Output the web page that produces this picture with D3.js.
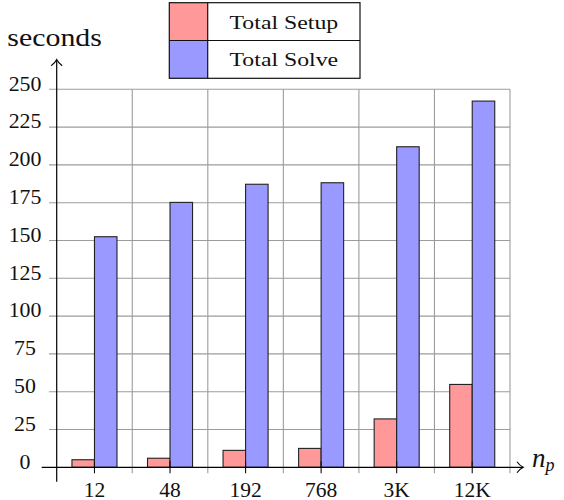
<!DOCTYPE html>
<html>
<head>
<meta charset="utf-8">
<script src="https://cdn.jsdelivr.net/npm/d3@7"></script>
<style>
  html, body { margin: 0; padding: 0; background: #fff; }
  svg { display: block; }
</style>
</head>
<body>
<svg id="chart" width="564" height="500"></svg>
<script>
// Processor counts on the horizontal axis
const categories = ["12", "48", "192", "768", "3K", "12K"];
// Time in seconds for each phase
const setupSeconds = [5, 6, 11.2, 12.5, 32, 54.8];
const solveSeconds = [152.5, 175.2, 187.2, 188.2, 212, 242.2];
// Vertical axis ticks
const yTicks = [0, 25, 50, 75, 100, 125, 150, 175, 200, 225, 250];
const seriesNames = ["Total Setup", "Total Solve"];
const seriesColors = ["#ff9999", "#9999ff"];

const FONT = "Liberation Serif";
const svg = d3.select("#chart");

const x = d3.scaleBand().domain(categories).range([56.7, 510]).paddingInner(0).paddingOuter(0);
const y = d3.scaleLinear().domain([0, 250]).range([467.3, 89.3]);
const barW = x.bandwidth() * 0.298;

// place text at (px, py) and stretch it horizontally by k (wider serif look)
const place = (px, py, k) => `translate(${px},${py}) scale(${k},1)`;

const gridColor = "#9c9c9c";

// horizontal grid (also forms the left tick marks)
svg.append("g")
  .selectAll("line")
  .data(yTicks.filter(d => d > 0))
  .join("line")
  .attr("x1", 49).attr("x2", x.range()[1])
  .attr("y1", d => y(d)).attr("y2", d => y(d))
  .attr("stroke", gridColor).attr("stroke-width", 1.1);

// vertical grid at the category boundaries
svg.append("g")
  .selectAll("line")
  .data(categories)
  .join("line")
  .attr("x1", d => x(d) + x.bandwidth()).attr("x2", d => x(d) + x.bandwidth())
  .attr("y1", y(250)).attr("y2", y(0) + 6)
  .attr("stroke", gridColor).attr("stroke-width", 1.1);

// bars
const groups = svg.append("g")
  .selectAll("g")
  .data(categories)
  .join("g");

groups.append("rect")
  .attr("x", d => x(d) + x.bandwidth() / 2 - barW)
  .attr("y", (d, i) => y(setupSeconds[i]))
  .attr("width", barW)
  .attr("height", (d, i) => y(0) - y(setupSeconds[i]))
  .attr("fill", seriesColors[0])
  .attr("stroke", "#222").attr("stroke-width", 1.1);

groups.append("rect")
  .attr("x", d => x(d) + x.bandwidth() / 2)
  .attr("y", (d, i) => y(solveSeconds[i]))
  .attr("width", barW)
  .attr("height", (d, i) => y(0) - y(solveSeconds[i]))
  .attr("fill", seriesColors[1])
  .attr("stroke", "#222").attr("stroke-width", 1.1);

// x ticks at category centres
svg.append("g")
  .selectAll("line")
  .data(categories)
  .join("line")
  .attr("x1", d => x(d) + x.bandwidth() / 2).attr("x2", d => x(d) + x.bandwidth() / 2)
  .attr("y1", y(0) - 6).attr("y2", y(0) + 6)
  .attr("stroke", "#111").attr("stroke-width", 1.1);

// axes lines with arrow tips
svg.append("line")
  .attr("x1", 41.7).attr("x2", 522.5).attr("y1", y(0)).attr("y2", y(0))
  .attr("stroke", "#000").attr("stroke-width", 1.2);
svg.append("path")
  .attr("d", `M517,${y(0) - 5.5} Q519.5,${y(0) - 1.8} 523.3,${y(0)} Q519.5,${y(0) + 1.8} 517,${y(0) + 5.5}`)
  .attr("fill", "none").attr("stroke", "#000").attr("stroke-width", 1.1);

svg.append("line")
  .attr("x1", 56.7).attr("x2", 56.7).attr("y1", 481.7).attr("y2", 60.5)
  .attr("stroke", "#000").attr("stroke-width", 1.2);
svg.append("path")
  .attr("d", "M51.2,65.7 Q55,63.2 56.7,59.6 Q58.4,63.2 62.2,65.7")
  .attr("fill", "none").attr("stroke", "#000").attr("stroke-width", 1.1);

// y tick labels
svg.append("g")
  .selectAll("text")
  .data(yTicks)
  .join("text")
  .attr("font-family", FONT)
  .attr("transform", d => place(25, y(d) + 1.2, 1.04))
  .attr("text-anchor", "middle")
  .attr("font-size", 21)
  .attr("fill", "#111")
  .text(d => d);

// x tick labels
svg.append("g")
  .selectAll("text")
  .data(categories)
  .join("text")
  .attr("font-family", FONT)
  .attr("transform", d => place(x(d) + x.bandwidth() / 2, 496.5, 1.05))
  .attr("text-anchor", "middle")
  .attr("font-size", 20.5)
  .attr("fill", "#111")
  .text(d => d);

// axis titles
svg.append("text")
  .attr("font-family", FONT)
  .attr("transform", place(7.3, 45.5, 1.22))
  .attr("font-size", 24.5)
  .attr("fill", "#111")
  .text("seconds");

const np = svg.append("text")
  .attr("font-family", FONT)
  .attr("x", 532).attr("y", 466.8)
  .attr("font-size", 27)
  .attr("font-style", "italic")
  .attr("fill", "#111");
np.append("tspan").text("n");
np.append("tspan").attr("font-size", 18).attr("dy", 4).text("p");

// legend
const legend = svg.append("g");
const lgX = 169.3, lgY = 2.7, lgW = 190.7, lgRow = 37.8, swW = 38.4;
legend.selectAll("rect.sw")
  .data(seriesNames)
  .join("rect")
  .attr("class", "sw")
  .attr("x", lgX).attr("y", (d, i) => lgY + i * lgRow)
  .attr("width", swW).attr("height", lgRow)
  .attr("fill", (d, i) => seriesColors[i]);
legend.selectAll("text")
  .data(seriesNames)
  .join("text")
  .attr("font-family", FONT)
  .attr("transform", (d, i) => place(lgX + swW + (lgW - swW) / 2, lgY + i * lgRow + 25.8, 1.22))
  .attr("text-anchor", "middle")
  .attr("font-size", 19.5)
  .attr("fill", "#111")
  .text(d => d);
legend.append("rect")
  .attr("x", lgX).attr("y", lgY).attr("width", lgW).attr("height", lgRow * 2)
  .attr("fill", "none").attr("stroke", "#111").attr("stroke-width", 1.2);
legend.append("line")
  .attr("x1", lgX).attr("x2", lgX + lgW).attr("y1", lgY + lgRow).attr("y2", lgY + lgRow)
  .attr("stroke", "#111").attr("stroke-width", 1.2);
legend.append("line")
  .attr("x1", lgX + swW).attr("x2", lgX + swW).attr("y1", lgY).attr("y2", lgY + 2 * lgRow)
  .attr("stroke", "#111").attr("stroke-width", 1.2);
</script>
</body>
</html>
